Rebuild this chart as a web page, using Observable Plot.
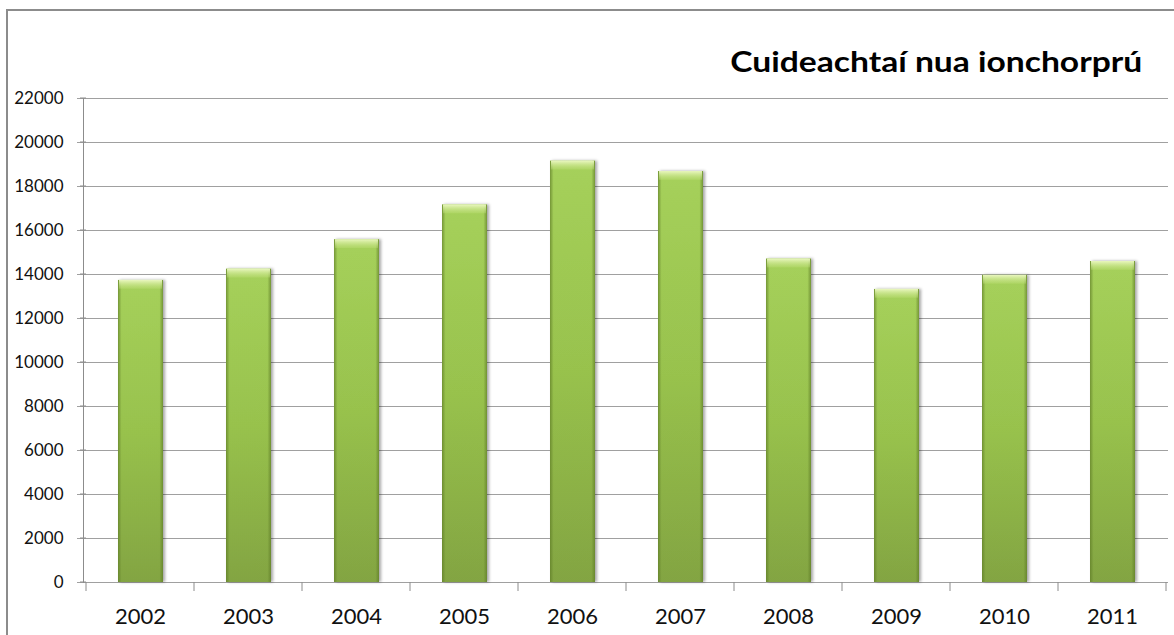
<!DOCTYPE html>
<html>
<head>
<meta charset="utf-8">
<script src="https://cdn.jsdelivr.net/npm/d3@7"></script>
<script src="https://cdn.jsdelivr.net/npm/@observablehq/plot@0.6"></script>
<style>
  html, body { margin: 0; padding: 0; background: #fff; overflow: hidden; }
  #wrap { position: relative; width: 1174px; height: 635px; overflow: hidden; }
  #border { position: absolute; left: 6px; top: 9px; width: 1300px; height: 800px; border: 2px solid #8c8c8c; box-sizing: border-box; }
  #chart { position: absolute; left: 0; top: 0; }
</style>
</head>
<body>
<div id="wrap"><div id="border"></div><div id="chart"></div></div>
<script>
const years = ["2002", "2003", "2004", "2005", "2006", "2007", "2008", "2009", "2010", "2011"];
const values = [13730, 14240, 15580, 17160, 19150, 18680, 14700, 13320, 13960, 14590];
const yTicks = [0, 2000, 4000, 6000, 8000, 10000, 12000, 14000, 16000, 18000, 20000, 22000];
const title = "Cuideachtaí nua ionchorprú";

const data = years.map((y, i) => ({year: y, value: values[i]}));
const capUnits = 400;

const plot = Plot.plot({
  width: 1174,
  height: 635,
  marginLeft: 83,
  marginRight: 6,
  marginTop: 98,
  marginBottom: 53,
  style: {background: "transparent", fontFamily: "Lato, 'Open Sans', sans-serif", color: "#111"},
  x: {domain: years, padding: 0, label: null},
  y: {domain: [0, 22000], label: null},
  marks: [
    Plot.ruleY(yTicks, {stroke: "#a0a0a0", strokeWidth: 1, insetLeft: -6}),
    Plot.barY(data, {x: "year", y: "value", fill: "url(#barFill)", insetLeft: 32, insetRight: 31}),
    Plot.barY(data, {x: "year", y: "value", fill: "url(#edgeFill)", insetLeft: 32, insetRight: 31}),
    Plot.rectY(data, {x: "year", y1: d => d.value - capUnits, y2: "value", fill: "url(#capFill)", insetLeft: 33, insetRight: 32}),
    Plot.frame({anchor: "left", stroke: "#8c8c8c"}),
    Plot.axisY({ticks: yTicks, tickFormat: d => String(d), tickSize: 0, tickPadding: 20, fontSize: 17, fill: "#111"}),
    Plot.axisX({tickSize: 0, tickPadding: 26, fontSize: 22, fill: "#111"}),
    Plot.text([title], {frameAnchor: "top-right", text: d => d, dx: -22, dy: -27, lineAnchor: "bottom", textAnchor: "end", fontSize: 28, fontWeight: "bold", fill: "#000", className: "title"})
  ]
});

const svg = d3.select(plot);
const defs = svg.insert("defs", ":first-child");
const g1 = defs.append("linearGradient").attr("id", "barFill").attr("x1", 0).attr("y1", 0).attr("x2", 0).attr("y2", 1);
g1.append("stop").attr("offset", 0).attr("stop-color", "#acd85f");
g1.append("stop").attr("offset", 0.5).attr("stop-color", "#9dc850");
g1.append("stop").attr("offset", 1).attr("stop-color", "#86a844");
const g2 = defs.append("linearGradient").attr("id", "edgeFill").attr("x1", 0).attr("y1", 0).attr("x2", 1).attr("y2", 0);
g2.append("stop").attr("offset", 0).attr("stop-color", "#5d7a26").attr("stop-opacity", 0.7);
g2.append("stop").attr("offset", 0.08).attr("stop-color", "#5d7a26").attr("stop-opacity", 0.08);
g2.append("stop").attr("offset", 0.92).attr("stop-color", "#5d7a26").attr("stop-opacity", 0.08);
g2.append("stop").attr("offset", 1).attr("stop-color", "#5d7a26").attr("stop-opacity", 0.7);
const g3 = defs.append("linearGradient").attr("id", "capFill").attr("x1", 0).attr("y1", 0).attr("x2", 0).attr("y2", 1);
g3.append("stop").attr("offset", 0).attr("stop-color", "#eaf7c0").attr("stop-opacity", 1);
g3.append("stop").attr("offset", 1).attr("stop-color", "#c0e07a").attr("stop-opacity", 0.35);
const f = defs.append("filter").attr("id", "shadow").attr("x", "-20%").attr("y", "-5%").attr("width", "140%").attr("height", "110%");
f.append("feDropShadow").attr("dx", 2).attr("dy", 0).attr("stdDeviation", 1.5).attr("flood-color", "#000").attr("flood-opacity", 0.35);

svg.selectAll("g[aria-label='bar']").filter((d, i) => i === 0).attr("filter", "url(#shadow)");

const xs = plot.scale("x");
const ys = plot.scale("y");
const y0 = ys.apply(0);
const bounds = years.map(y => xs.apply(y)).concat([xs.apply(years[years.length - 1]) + xs.bandwidth]);
svg.append("g").attr("stroke", "#8c8c8c").selectAll("line").data(bounds).join("line")
  .attr("x1", d => d).attr("x2", d => d).attr("y1", y0).attr("y2", y0 + 9);
svg.append("g").attr("stroke", "#8c8c8c").selectAll("line").data(yTicks).join("line")
  .attr("x1", xs.apply(years[0]) - 6).attr("x2", xs.apply(years[0])).attr("y1", d => ys.apply(d)).attr("y2", d => ys.apply(d));

document.getElementById("chart").appendChild(plot);

// stretch the title horizontally about its right end
const titleG = plot.querySelector("g.title");
if (titleG) {
  const bb = titleG.getBBox();
  const xr = bb.x + bb.width;
  const wrapper = document.createElementNS("http://www.w3.org/2000/svg", "g");
  wrapper.setAttribute("transform", `translate(${xr},0) scale(1.2,1) translate(${-xr},0)`);
  titleG.parentNode.insertBefore(wrapper, titleG);
  wrapper.appendChild(titleG);
}
</script>
</body>
</html>
